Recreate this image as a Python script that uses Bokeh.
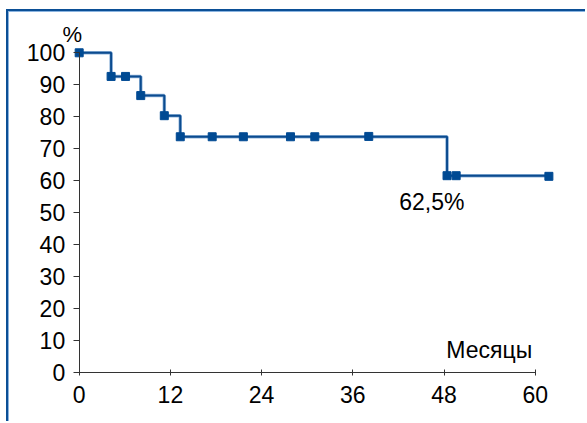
from bokeh.plotting import figure
from bokeh.models import Range1d, LinearAxis, FixedTicker, Label, Grid
from bokeh.embed import file_html
from bokeh.resources import INLINE

# Kaplan-Meier step curve (months, % surviving)
step_months = [0, 4.2, 8.1, 11.2, 13.3, 48.4, 61.8]
step_surv = [100, 92.6, 86.6, 80.3, 73.7, 61.5, 61.5]

# marker points (events and censored observations)
marker_months = [0, 4.2, 6.1, 8.1, 11.2, 13.3, 17.5, 21.6, 27.8, 31.0, 38.1, 48.4, 49.6, 61.8]
marker_surv = [100, 92.6, 92.6, 86.6, 80.3, 73.7, 73.7, 73.7, 73.7, 73.7, 73.8, 61.5, 61.5, 61.3]

x_ticks = [0, 12, 24, 36, 48, 60]
y_ticks = [0, 10, 20, 30, 40, 50, 60, 70, 80, 90, 100]

final_label = "62,5%"
final_label_pos = (46.4, 50.8)
x_title = "Месяцы"
y_title = "%"

FONT = "Liberation Sans"
DARK = "#0b4b8f"
LIGHT = "#8fb3d9"
MARK = "#004a93"
TXT = "#000000"

W, H = 579, 412
p = figure(width=W, height=H, output_backend="svg", toolbar_location=None,
           x_range=Range1d(-9.30, 66.88), y_range=Range1d(-16.13, 112.94),
           x_axis_location=None, y_axis_location=None, min_border=0,
           outline_line_color=None, background_fill_color=None,
           border_fill_color=None)
for r in list(p.center):
    if isinstance(r, Grid):
        r.visible = False

p.styles = {"border-left": "2px solid #0b4f96", "border-top": "2px solid #0b4f96",
            "box-shadow": "inset 1px 1px 0 #8ab4e0",
            "margin-left": "6px", "margin-top": "9px"}

def style_axis(ax):
    ax.axis_line_color = "#333333"
    ax.axis_line_width = 1
    ax.major_tick_line_color = "#333333"
    ax.minor_tick_line_color = None
    ax.major_label_text_font = FONT
    ax.major_label_text_font_size = "23px"
    ax.major_label_text_color = TXT

yaxis = LinearAxis(fixed_location=0, bounds=(0, 100), ticker=FixedTicker(ticks=y_ticks),
                   major_tick_in=0, major_tick_out=6, major_label_standoff=8)
style_axis(yaxis)
p.add_layout(yaxis, "left")

xaxis = LinearAxis(fixed_location=0, bounds=(0, 60), ticker=FixedTicker(ticks=x_ticks),
                   major_tick_in=3, major_tick_out=3, major_label_standoff=11)
style_axis(xaxis)
p.add_layout(xaxis, "below")

# curve: light halo under dark line
p.step(step_months, step_surv, mode="after", line_color=LIGHT, line_width=3.5)
p.step(step_months, step_surv, mode="after", line_color=DARK, line_width=2)
p.scatter(marker_months, marker_surv, marker="square", size=8,
          fill_color=MARK, line_color=MARK)

p.add_layout(Label(x=final_label_pos[0], y=final_label_pos[1], y_offset=8, text=final_label,
                   text_align="center", text_baseline="alphabetic",
                   text_font=FONT, text_font_size="23px", text_color=TXT))
p.add_layout(Label(x=60, y=0, x_offset=-3, y_offset=22, text=x_title,
                   text_align="right", text_baseline="alphabetic",
                   text_font=FONT, text_font_size="23px", text_color=TXT))
p.add_layout(Label(x=0, y=100, x_offset=-7, y_offset=18, text=y_title,
                   text_align="center", text_baseline="alphabetic",
                   text_font=FONT, text_font_size="22px", text_color=TXT))

open("out.html", "w").write(file_html(p, INLINE))
